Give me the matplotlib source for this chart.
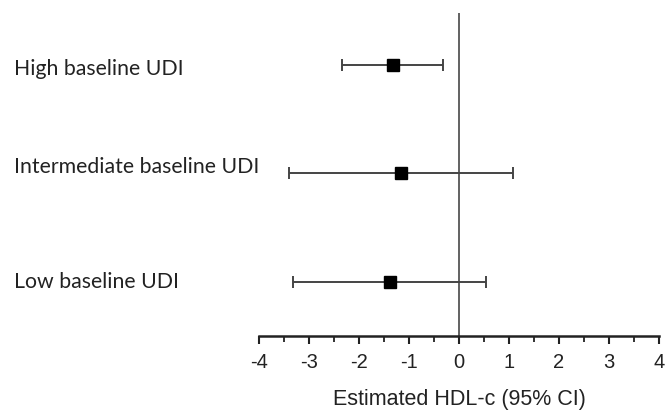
import matplotlib.pyplot as plt
from matplotlib.ticker import MultipleLocator

plt.rcParams["axes.unicode_minus"] = False

groups = ["High baseline UDI", "Intermediate baseline UDI", "Low baseline UDI"]
estimate = [-1.33, -1.17, -1.39]
ci_low = [-2.35, -3.41, -3.32]
ci_high = [-0.32, 1.08, 0.53]
rows = [3, 2, 1]

# label baselines sit a bit off the row centres in the original
label_y = [2.906, 2.002, 0.942]

fig = plt.figure(figsize=(6.67, 4.16), dpi=100)
ax = fig.add_axes([259 / 667, 80 / 416, 400 / 667, 323 / 416])

err_lo = [e - l for e, l in zip(estimate, ci_low)]
err_hi = [h - e for e, h in zip(estimate, ci_high)]
ax.errorbar(estimate, rows, xerr=[err_lo, err_hi], fmt="s", color="black",
            ecolor="#444444", elinewidth=1.4, capsize=4.5, capthick=1.4,
            markersize=8.5, zorder=3)

ax.axvline(0, color="#555555", lw=1.3, zorder=1)

ax.set_xlim(-4, 4)
ax.set_ylim(0.5, 3.48)
ax.xaxis.set_major_locator(MultipleLocator(1))
ax.xaxis.set_minor_locator(MultipleLocator(0.5))
ax.tick_params(axis="x", which="major", direction="out", length=6, width=1.5,
               pad=6.5, labelsize=14.5, colors="#222222")
ax.tick_params(axis="x", which="minor", direction="out", length=4, width=1.3,
               colors="#222222")
for lab in ax.get_xticklabels():
    lab.set_fontfamily("Liberation Sans")
ax.set_yticks([])

for side in ["left", "top", "right"]:
    ax.spines[side].set_visible(False)
ax.spines["bottom"].set_linewidth(1.8)
ax.spines["bottom"].set_color("#222222")

ax.set_xlabel("Estimated HDL-c (95% CI)", fontsize=15.5, family="Liberation Sans",
              color="#222222", labelpad=12)

for name, y in zip(groups, label_y):
    ax.text(-0.6125, y, name, transform=ax.get_yaxis_transform(), ha="left",
            va="baseline", fontsize=15.3, family="Lato", color="#222222")

fig.savefig("out.png", dpi=100, facecolor="white")
